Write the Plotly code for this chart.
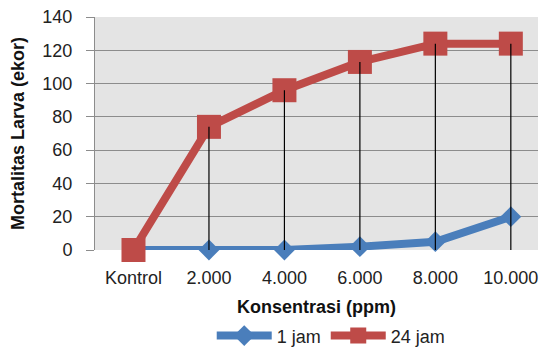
import plotly.graph_objects as go

categories = ["Kontrol", "2.000", "4.000", "6.000", "8.000", "10.000"]
jam1 = [0, 0, 0, 2, 5, 20]
jam24 = [0, 74, 96, 113, 124, 124]
y_ticks = [0, 20, 40, 60, 80, 100, 120, 140]

BLUE = "#4A7EBB"
RED = "#BE4B48"
FONT = "Liberation Sans"

fig = go.Figure()
fig.add_trace(go.Scatter(
    x=categories, y=jam1, name="1 jam", mode="lines+markers",
    line=dict(color=BLUE, width=8),
    marker=dict(symbol="diamond", size=16, color=BLUE),
    cliponaxis=False,
))
fig.add_trace(go.Scatter(
    x=categories, y=jam24, name="24 jam", mode="lines+markers",
    line=dict(color=RED, width=8),
    marker=dict(symbol="square", size=24, color=RED),
    cliponaxis=False,
))

# drop lines from the highest point at each category down to the axis
dx, dy = [], []
for c, a, b in zip(categories, jam1, jam24):
    dx += [c, c, None]
    dy += [0, max(a, b), None]
fig.add_trace(go.Scatter(
    x=dx, y=dy, mode="lines", line=dict(color="black", width=1.2),
    showlegend=False, hoverinfo="skip", cliponaxis=False,
))

fig.update_layout(
    width=543, height=347,
    margin=dict(l=95, r=5, t=17, b=97, autoexpand=False),
    paper_bgcolor="white",
    plot_bgcolor="#E4E4E4",
    font=dict(family=FONT, size=18, color="#222222"),
    showlegend=True,
    legend=dict(
        orientation="h", xref="container", yref="container",
        x=0.61, xanchor="center", y=0.032, yanchor="middle",
        font=dict(size=18, color="#222222"),
        traceorder="normal", itemwidth=55,
    ),
    xaxis=dict(
        type="category", range=[-0.51, 5.36], automargin=False,
        showgrid=False, zeroline=False, showline=False,
        ticks="", tickfont=dict(size=18, color="#222222"),
        ticklabelstandoff=15,
        title=dict(text="<b>Konsentrasi (ppm)</b>", font=dict(size=18, color="#111111"), standoff=20),
    ),
    yaxis=dict(
        range=[0, 140], tickvals=y_ticks, automargin=False,
        showgrid=True, gridcolor="#8C8C8C", gridwidth=1,
        zeroline=False, showline=True, linecolor="#8C8C8C", linewidth=1,
        ticks="outside", ticklen=8, tickcolor="#8C8C8C",
        tickfont=dict(size=18, color="#222222"),
        ticklabelstandoff=10,
        title=dict(text="<b>Mortalitas Larva (ekor)</b>", font=dict(size=18, color="#111111"), standoff=13),
    ),
)

fig.write_html("out.html", post_script="document.body.style.margin='0';",
               config={"displayModeBar": False})
